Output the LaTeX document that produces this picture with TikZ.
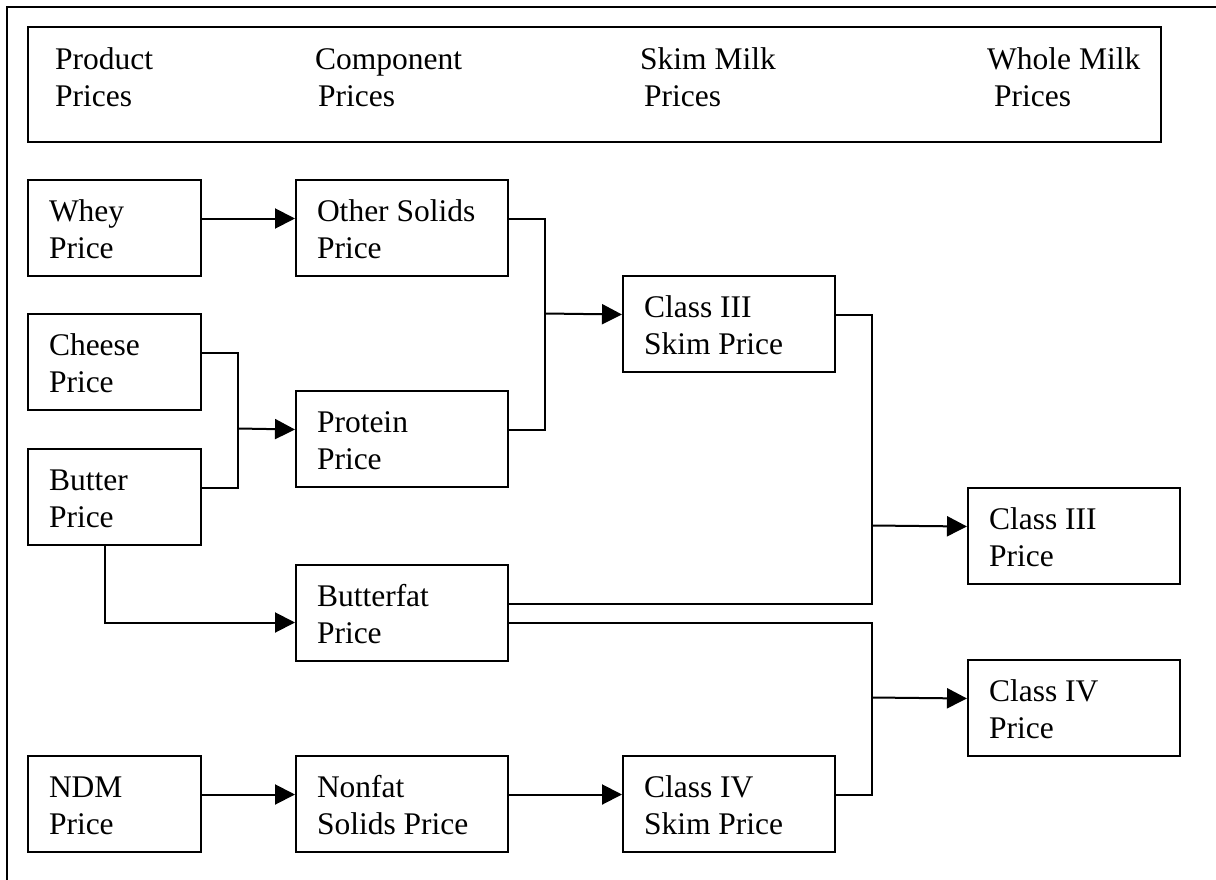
\documentclass[tikz,border=0pt]{standalone}
\usepackage{fontspec}
\setmainfont{Liberation Serif}
\usetikzlibrary{arrows.meta}
\newcommand\bxtxt[2]{\spaceskip=0pt\xspaceskip=0pt\rule{0pt}{30pt}#1\\#2\rule[-7pt]{0pt}{7pt}}
\newcommand\hdtxt[2]{\spaceskip=0pt\xspaceskip=0pt #1\\#2}
\tikzset{
  txt/.style={font=\fontsize{31.5pt}{37pt}\selectfont},
  box/.style={txt, draw, line width=2pt, anchor=north west, inner xsep=21pt, inner ysep=0pt, minimum height=96pt, align=left},
  narrow/.style={box, text width=131pt},
  wide/.style={box, text width=170pt},
  conn/.style={line width=2pt},
  arr/.style={conn, -{Triangle[length=20pt,width=20pt]}},
  hdrtext/.style={txt, anchor=base west, inner sep=0pt, align=left, text width=220pt}
}
\begin{document}
\begin{tikzpicture}[x=1pt, y=-1pt]
\useasboundingbox (0,0) rectangle (1216,880);
% outer frame
\coordinate (fbl) at (7,880);
\coordinate (ftl) at (7,7);
\coordinate (ftr) at (1216,7);
\draw[line width=1.6pt] (fbl) -- (ftl) -- (ftr);
% header
\node[draw, line width=2pt, anchor=north west, minimum width=1133pt, minimum height=115pt, inner sep=0pt] (hdr) at (27,26) {};
\node[hdrtext] (h1) at (55,70) {\hdtxt{Product}{Prices}};
\node[hdrtext] (h2) at (315,70) {\hdtxt{Component}{\hspace*{3pt}Prices}};
\node[hdrtext] (h3) at (640,70) {\hdtxt{Skim Milk}{\hspace*{4pt}Prices}};
\node[hdrtext] (h4) at (987,70) {\hdtxt{Whole Milk}{\hspace*{7pt}Prices}};
% boxes
\node[narrow] (whey) at (27,179) {\bxtxt{Whey}{Price}};
\node[narrow] (cheese) at (27,313) {\bxtxt{Cheese}{Price}};
\node[narrow] (butter) at (27,448) {\bxtxt{Butter}{Price}};
\node[narrow] (ndm) at (27,755) {\bxtxt{NDM}{Price}};
\node[wide] (other) at (295,179) {\bxtxt{Other Solids}{Price}};
\node[wide] (protein) at (295,390) {\bxtxt{Protein}{Price}};
\node[wide] (butterfat) at (295,564) {\bxtxt{Butterfat}{Price}};
\node[wide] (nonfat) at (295,755) {\bxtxt{Nonfat}{Solids Price}};
\node[wide] (c3skim) at (622,275) {\bxtxt{Class III}{Skim Price}};
\node[wide] (c4skim) at (622,755) {\bxtxt{Class IV}{Skim Price}};
\node[wide] (class3) at (967,487) {\bxtxt{Class III}{Price}};
\node[wide] (class4) at (967,659) {\bxtxt{Class IV}{Price}};
% junctions
\coordinate (j1) at (545,313.5);
\coordinate (j2) at (238,428.5);
\coordinate (j3) at (872,525.5);
\coordinate (j4) at (872,697.5);
% connectors
\draw[arr] ([yshift=9.5pt]whey.east) -- ([yshift=9.5pt]other.west);
\draw[conn] ([yshift=9.5pt]other.east) -| (j1);
\draw[conn] ([yshift=9.5pt]protein.east) -| (j1);
\draw[arr] (j1) -- ([yshift=9.5pt]c3skim.west);
\draw[conn] ([yshift=9.5pt]cheese.east) -| (j2);
\draw[conn] ([yshift=9.5pt]butter.east) -| (j2);
\draw[arr] (j2) -- ([yshift=9.5pt]protein.west);
\draw[arr] ([xshift=-9.5pt]butter.south) |- ([yshift=-9.5pt]butterfat.west);
\draw[conn] ([yshift=9.5pt]c3skim.east) -| (j3);
\draw[conn] ([yshift=9.5pt]butterfat.east) -| (j3);
\draw[arr] (j3) -- ([yshift=9.5pt]class3.west);
\draw[conn] ([yshift=-9.5pt]butterfat.east) -| (j4);
\draw[conn] ([yshift=9.5pt]c4skim.east) -| (j4);
\draw[arr] (j4) -- ([yshift=9.5pt]class4.west);
\draw[arr] ([yshift=9.5pt]ndm.east) -- ([yshift=9.5pt]nonfat.west);
\draw[arr] ([yshift=9.5pt]nonfat.east) -- ([yshift=9.5pt]c4skim.west);
\end{tikzpicture}
\end{document}
